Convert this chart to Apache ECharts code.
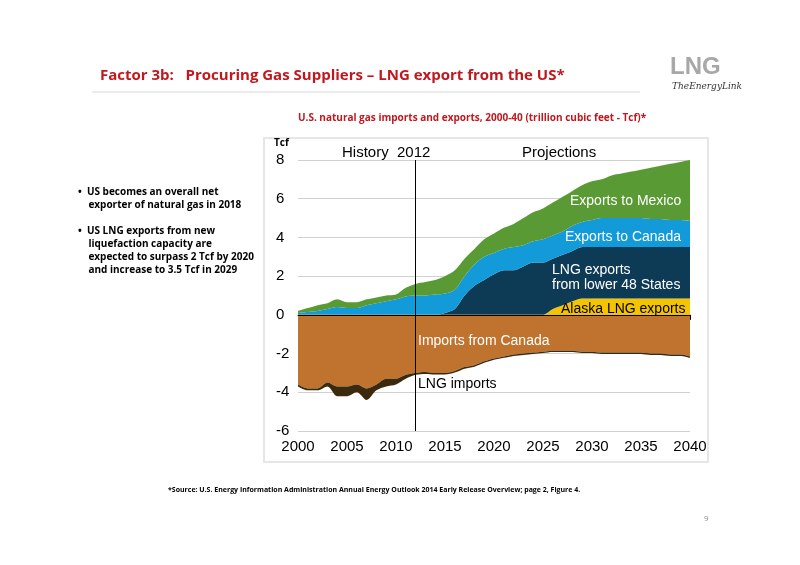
<!DOCTYPE html>
<html><head><meta charset="utf-8">
<script src="https://cdn.jsdelivr.net/npm/echarts@6/dist/echarts.min.js"></script>
<style>html,body{margin:0;padding:0;background:#fff}#c{width:800px;height:565px}</style>
</head><body><div id="c"></div>
<script>
const years = []; for (let y = 2000; y <= 2040; y++) years.push(String(y));
const totalTop = [0.2,0.35,0.5,0.6,0.8,0.65,0.65,0.8,0.9,1.0,1.05,1.4,1.6,1.7,1.8,2.0,2.3,2.9,3.4,3.9,4.2,4.5,4.7,5.0,5.3,5.5,5.8,6.1,6.4,6.7,6.9,7.0,7.2,7.3,7.4,7.5,7.6,7.7,7.8,7.9,8.0];
const canadaTop = [0.1,0.15,0.2,0.3,0.4,0.35,0.35,0.5,0.6,0.7,0.8,0.95,1.0,1.0,1.05,1.1,1.3,2.0,2.6,3.0,3.2,3.4,3.5,3.6,3.8,3.9,4.1,4.3,4.6,4.8,4.9,5.0,5.0,5.0,5.0,5.0,4.95,4.95,4.9,4.9,4.85];
const lng48Top = [0,0,0,0,0,0,0,0,0,0,0,0,0,0,0,0.1,0.3,1.0,1.5,1.8,2.1,2.3,2.3,2.5,2.7,2.7,2.9,3.1,3.3,3.5,3.5,3.5,3.5,3.5,3.5,3.5,3.5,3.5,3.5,3.5,3.5];
const alaska = [0,0,0,0,0,0,0,0,0,0,0,0,0,0,0,0,0,0,0,0,0,0,0,0,0,0,0.3,0.5,0.7,0.85,0.85,0.85,0.85,0.85,0.85,0.85,0.85,0.85,0.85,0.85,0.85];
const canImpBottom = [-3.6,-3.8,-3.8,-3.5,-3.7,-3.7,-3.6,-3.8,-3.6,-3.3,-3.3,-3.1,-3.0,-2.95,-3.0,-3.0,-2.9,-2.7,-2.6,-2.4,-2.25,-2.15,-2.05,-2.0,-1.95,-1.9,-1.85,-1.85,-1.85,-1.9,-1.9,-1.95,-1.95,-1.95,-1.95,-1.95,-2.0,-2.0,-2.05,-2.05,-2.15];
const lngImpBottom = [-3.7,-3.9,-3.9,-3.7,-4.2,-4.2,-4.0,-4.4,-3.9,-3.7,-3.6,-3.3,-3.1,-3.05,-3.08,-3.08,-2.98,-2.78,-2.68,-2.48,-2.32,-2.22,-2.12,-2.07,-2.02,-1.97,-1.92,-1.92,-1.92,-1.97,-1.97,-2.02,-2.02,-2.02,-2.02,-2.02,-2.07,-2.07,-2.12,-2.12,-2.22];
const yTicks = [-6,-4,-2,0,2,4,6,8];

const sAlaska = alaska;
const sLng48 = lng48Top.map((v,i)=>+(v-alaska[i]).toFixed(2));
const sCanada = canadaTop.map((v,i)=>+(v-Math.max(lng48Top[i],0)).toFixed(2));
const sMexico = totalTop.map((v,i)=>+(v-canadaTop[i]).toFixed(2));
const sCanImp = canImpBottom;
const sLngImp = lngImpBottom.map((v,i)=>+(v-canImpBottom[i]).toFixed(2));

function area(name, data, color, stack){
  return {name, type:'line', stack, data, symbol:'none', smooth:0.3,
    lineStyle:{width:0}, areaStyle:{color, opacity:1}, itemStyle:{color}};
}
const chart = echarts.init(document.getElementById('c'));
const F = 'Liberation Sans, Arial, sans-serif';
function T(left,top,text,fill,font,extra){return Object.assign({type:'text',left,top,z:100,style:Object.assign({text,fill,font},extra||{})});}
chart.setOption({
  animation:false,
  grid:{left:298,right:110,top:160,bottom:134},
  xAxis:{type:'category',data:years,boundaryGap:false,
    axisLine:{lineStyle:{color:'#000'}},axisTick:{interval:4,length:5,lineStyle:{color:'#000'}},
    axisLabel:{interval:4,color:'#000',fontSize:15,fontFamily:F,margin:8},splitLine:{show:false}},
  yAxis:{type:'value',min:-6,max:8,interval:2,
    axisLine:{show:false},axisTick:{show:false},
    axisLabel:{color:'#000',fontSize:15,fontFamily:F,margin:22,align:'left',
      formatter:v=>yTicks.includes(v)?String(v):''},
    splitLine:{lineStyle:{color:'#d0d0d0'}}},
  series:[
    area('Alaska LNG exports', sAlaska, '#f5c400','pos'),
    area('LNG exports from lower 48 States', sLng48, '#0d3a55','pos'),
    area('Exports to Canada', sCanada, '#129ad9','pos'),
    area('Exports to Mexico', sMexico, '#5a9a34','pos'),
    Object.assign(area('Imports from Canada', sCanImp, '#c0732f','neg'),{
      markLine:{symbol:'none',silent:true,label:{show:false},
        lineStyle:{color:'#000',width:1,type:'solid'},
        data:[{xAxis:'2012'},[{coord:['2000',0]},{coord:['2040',0]}]]}}),
    area('LNG imports', sLngImp, '#3b2a0e','neg')
  ],
  graphic:[
    {type:'rect',z:-1,shape:{x:264,y:138,width:444,height:324},style:{fill:'none',stroke:'#e6e6e6',lineWidth:2}},
    T(100,68,'Factor 3b:   Procuring Gas Suppliers – LNG export from the US*','#c0181e','bold 15px "Open Sans", sans-serif'),
    {type:'line',z:100,shape:{x1:92,y1:92,x2:640,y2:92},style:{stroke:'#d8d8d8',lineWidth:1}},
    T(670,55,'LNG','#a8a8a8','bold 24px "Liberation Sans", sans-serif'),
    T(672,82,'TheEnergyLink','#333','italic 9px "DejaVu Serif", serif'),
    T(298,113,'U.S. natural gas imports and exports, 2000-40 (trillion cubic feet - Tcf)*','#c0181e','bold 10px "Open Sans", sans-serif'),
    T(274,138,'Tcf','#000','bold 10px "Open Sans", sans-serif'),
    T(342,145,'History  2012','#000','15px "Liberation Sans", sans-serif'),
    T(522,145,'Projections','#000','15px "Liberation Sans", sans-serif'),
    T(570,194,'Exports to Mexico','#fff','14px "Liberation Sans", sans-serif'),
    T(565,230,'Exports to Canada','#fff','14px "Liberation Sans", sans-serif'),
    T(552,263,'LNG exports\nfrom lower 48 States','#fff','14px "Liberation Sans", sans-serif',{lineHeight:15}),
    T(561,302,'Alaska LNG exports','#000','14px "Liberation Sans", sans-serif'),
    T(418,334,'Imports from Canada','#fff','14px "Liberation Sans", sans-serif'),
    T(418,377,'LNG imports','#000','14px "Liberation Sans", sans-serif'),
    T(78,186,'•  US becomes an overall net\n    exporter of natural gas in 2018\n\n•  US LNG exports from new\n    liquefaction capacity are\n    expected to surpass 2 Tcf by 2020\n    and increase to 3.5 Tcf in 2029','#000','bold 10px "Open Sans", sans-serif',{lineHeight:13}),
    T(168,486,'*Source: U.S. Energy Information Administration Annual Energy Outlook 2014 Early Release Overview; page 2, Figure 4.','#000','bold 7px "Open Sans", sans-serif'),
    T(704,515,'9','#888','8px "Open Sans", sans-serif')
  ]
});
</script></body></html>
